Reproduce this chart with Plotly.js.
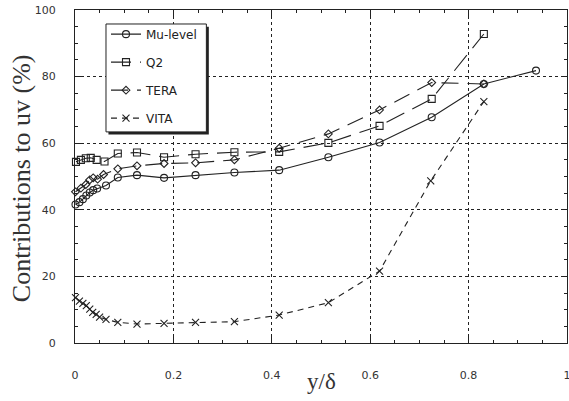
<!DOCTYPE html>
<html>
<head>
<meta charset="utf-8">
<script src="https://cdn.plot.ly/plotly-3.0.1.min.js"></script>
<style>
  html, body { margin: 0; padding: 0; background: #fff; }
  #chart { width: 569px; height: 401px; }
</style>
</head>
<body>
<div id="chart"></div>
<script>
// Share of the uv stress captured by each detection scheme across the layer.
const muX   = [0.001, 0.009, 0.016, 0.023, 0.030, 0.037, 0.045, 0.063, 0.087, 0.126, 0.181, 0.245, 0.324, 0.415, 0.515, 0.619, 0.725, 0.831, 0.937];
const muY   = [41.6, 42.3, 43.2, 44.3, 45.2, 45.9, 46.4, 47.3, 49.7, 50.4, 49.6, 50.4, 51.2, 51.9, 55.8, 60.2, 67.8, 77.8, 81.8];

const q2X   = [0.002, 0.012, 0.022, 0.032, 0.044, 0.060, 0.087, 0.126, 0.181, 0.245, 0.324, 0.415, 0.515, 0.619, 0.725, 0.831];
const q2Y   = [54.4, 55.0, 55.5, 55.6, 55.0, 54.5, 56.9, 57.2, 55.8, 56.7, 57.3, 57.4, 60.1, 65.2, 73.3, 92.8];

const teraX = [0.001, 0.012, 0.022, 0.030, 0.037, 0.046, 0.058, 0.087, 0.126, 0.181, 0.245, 0.324, 0.415, 0.515, 0.619, 0.725, 0.831];
const teraY = [45.4, 46.5, 47.6, 49.0, 49.6, 49.2, 50.6, 52.3, 53.2, 53.9, 54.1, 55.0, 58.5, 62.8, 70.0, 78.2, 77.8];

const vitaX = [0.001, 0.009, 0.016, 0.023, 0.030, 0.036, 0.043, 0.050, 0.063, 0.087, 0.126, 0.181, 0.245, 0.324, 0.415, 0.515, 0.619, 0.723, 0.831];
const vitaY = [13.6, 12.6, 11.9, 11.2, 10.2, 9.2, 8.6, 7.8, 7.1, 6.2, 5.7, 5.9, 6.2, 6.4, 8.4, 12.1, 21.6, 48.7, 72.5];

const xTicks = [0, 0.2, 0.4, 0.6, 0.8, 1];
const xTickText = ['0', '0.2', '0.4', '0.6', '0.8', '1'];
const yTicks = [0, 20, 40, 60, 80, 100];
const yTickText = ['0', '20', '40', '60', '80', '100'];

const ink = '#222';

function series(name, x, y, symbol, size, dash, group) {
  return {
    type: 'scatter', mode: 'lines+markers', name: name, x: x, y: y,
    legendgroup: group,
    line: { color: ink, width: 1.1, dash: dash },
    marker: { symbol: symbol, size: size, color: ink, line: { color: ink, width: 1.1 } },
    cliponaxis: false
  };
}

const traces = [
  series('Mu-level', muX, muY, 'circle-open', 7, 'solid', 'a'),
  series('Q2', q2X, q2Y, 'square-open', 7, '20px,9px', 'b'),
  series('TERA', teraX, teraY, 'diamond-open', 6, '17px,9px', 'c'),
  series('VITA', vitaX, vitaY, 'x-thin-open', 7, '6px,5px', 'd')
];

const axisCommon = {
  showline: true, linecolor: ink, linewidth: 1, mirror: 'allticks',
  ticks: 'inside', ticklen: 6, tickwidth: 1, tickcolor: ink,
  showgrid: true, gridcolor: ink, gridwidth: 1, griddash: 'dot',
  zeroline: false, ticklabeloverflow: 'allow',
  tickfont: { family: 'DejaVu Sans, Arial, sans-serif', size: 11, color: '#333' },
  tickmode: 'array'
};

// legend frame with a drop shadow, in paper coordinates
const box = { x0: 0.063, x1: 0.267, y0: 0.634, y1: 0.958 };
const serif = 'Liberation Serif, Times New Roman, serif';

const layout = {
  width: 569, height: 401,
  margin: { l: 75, r: 2, t: 10, b: 58 },
  paper_bgcolor: '#fff', plot_bgcolor: '#fff',
  showlegend: true,
  xaxis: Object.assign({}, axisCommon, {
    range: [0, 1], tickvals: xTicks, ticktext: xTickText,
    ticklabelstandoff: 22,
    minor: { dtick: 0.05, ticks: 'inside', ticklen: 3, tickcolor: ink, showgrid: false }
  }),
  yaxis: Object.assign({}, axisCommon, {
    range: [0, 100], tickvals: yTicks, ticktext: yTickText,
    ticklabelstandoff: 16,
    minor: { dtick: 5, ticks: 'inside', ticklen: 3, tickcolor: ink, showgrid: false }
  }),
  shapes: [
    { type: 'rect', xref: 'paper', yref: 'paper', layer: 'above',
      x0: box.x0 + 0.005, x1: box.x1 + 0.005, y0: box.y0 - 0.008, y1: box.y1 - 0.008,
      fillcolor: ink, line: { width: 0 } },
    { type: 'rect', xref: 'paper', yref: 'paper', layer: 'above',
      x0: box.x0, x1: box.x1, y0: box.y0, y1: box.y1,
      fillcolor: '#fff', line: { color: ink, width: 1 } }
  ],
  legend: {
    x: 0.063, y: 0.971, xanchor: 'left', yanchor: 'top',
    bgcolor: 'rgba(0,0,0,0)', borderwidth: 0,
    traceorder: 'grouped', tracegroupgap: 9,
    font: { family: 'DejaVu Sans, Arial, sans-serif', size: 12, color: ink }
  },
  annotations: [
    { text: 'y/δ', xref: 'paper', yref: 'paper', x: 0.5, y: -0.115,
      xanchor: 'center', yanchor: 'middle', showarrow: false,
      font: { family: serif, size: 23, color: '#333' } },
    { text: 'Contributions to uv (%)', xref: 'paper', yref: 'paper',
      x: -0.109, y: 0.496, xanchor: 'center', yanchor: 'middle', textangle: -90,
      showarrow: false, font: { family: serif, size: 26, color: '#333' } }
  ]
};

Plotly.newPlot('chart', traces, layout, { staticPlot: true, displayModeBar: false });
</script>
</body>
</html>
